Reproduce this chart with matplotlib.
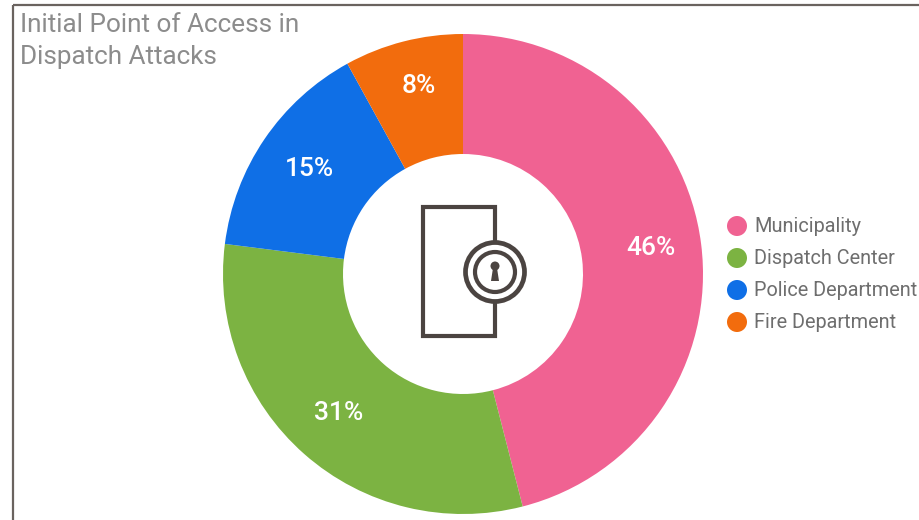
# -*- coding: utf-8 -*-
"""
Donut chart of the initial point of access in dispatch attacks,
with a locked door icon in the hole and a small legend on the right.
"""
import matplotlib
matplotlib.use("Agg")
import matplotlib.pyplot as plt
from matplotlib.patches import Circle, Polygon, Rectangle

plt.rcParams['font.family'] = ['Roboto', 'DejaVu Sans']

# the data
categories = ['Municipality', 'Dispatch Center', 'Police Department', 'Fire Department']
values = [46, 31, 15, 8]
colors = ['#f06292', '#7cb342', '#0f6fe6', '#f26c0d']
title_lines = ['Initial Point of Access in', 'Dispatch Attacks']

# figure size in pixels, everything below is laid out in pixels too
W, H = 920, 520
cx, cy, radius = 463, 274, 240
# where the percent labels sit, same order as the values
label_xy = [(651, 248), (339, 413), (309, 169), (419, 86)]
legend_y = [227, 259, 291, 323]

fig = plt.figure(figsize=(W/100, H/100), dpi=100, facecolor='white')

# the ring gets its own axes so the wedges come straight from the values
ax = fig.add_axes([(cx-radius)/W, 1-(cy+radius)/H, 2*radius/W, 2*radius/H])
ax.pie(values, colors=colors, startangle=90, counterclock=False, radius=1,
       wedgeprops={'width': 0.5, 'linewidth': 0})
ax.set_xlim(-1, 1)
ax.set_ylim(-1, 1)
ax.axis('off')

# overlay for all the rest, y goes downward like screen pixels
over = fig.add_axes([0, 0, 1, 1])
over.set_xlim(0, W)
over.set_ylim(H, 0)
over.axis('off')
over.patch.set_alpha(0)

# frame lines on the top and left side only
frame = '#6a635f'
over.plot([13, 13], [5, H], color=frame, lw=1.6, solid_capstyle='butt')
over.plot([13, W], [5, 5], color=frame, lw=1.6, solid_capstyle='butt')

# title
for line, y in zip(title_lines, [25, 57]):
    over.text(20, y, line, fontsize=18.8, color='#8c8c8c', ha='left', va='center')

# percent labels on the ring
for value, (x, y) in zip(values, label_xy):
    over.text(x, y, '%d%%' % value, fontsize=19, color='white', fontweight='medium',
              ha='center', va='center')

# legend
for name, color, y in zip(categories, colors, legend_y):
    over.add_patch(Circle((737, y - 1), 10, facecolor=color, edgecolor='none'))
    over.text(754, y, name, fontsize=14.3, color='#6e6e6e', ha='left', va='center')

# door with the lock on its right edge
icon = '#4b4441'
over.add_patch(Rectangle((423, 207), 72, 129, facecolor='none', edgecolor=icon, lw=3))
over.add_patch(Circle((495, 272), 29.5, facecolor='white', edgecolor=icon, lw=3.4))
over.add_patch(Circle((495, 272), 20, facecolor='white', edgecolor=icon, lw=3))
# keyhole, round top with a flared stem
over.add_patch(Circle((495, 266), 4.5, facecolor=icon, edgecolor='none'))
over.add_patch(Polygon([(493, 268), (497, 268), (499, 281), (491, 281)],
                       facecolor=icon, edgecolor='none'))

fig.savefig('out.png', dpi=100, facecolor='white')
